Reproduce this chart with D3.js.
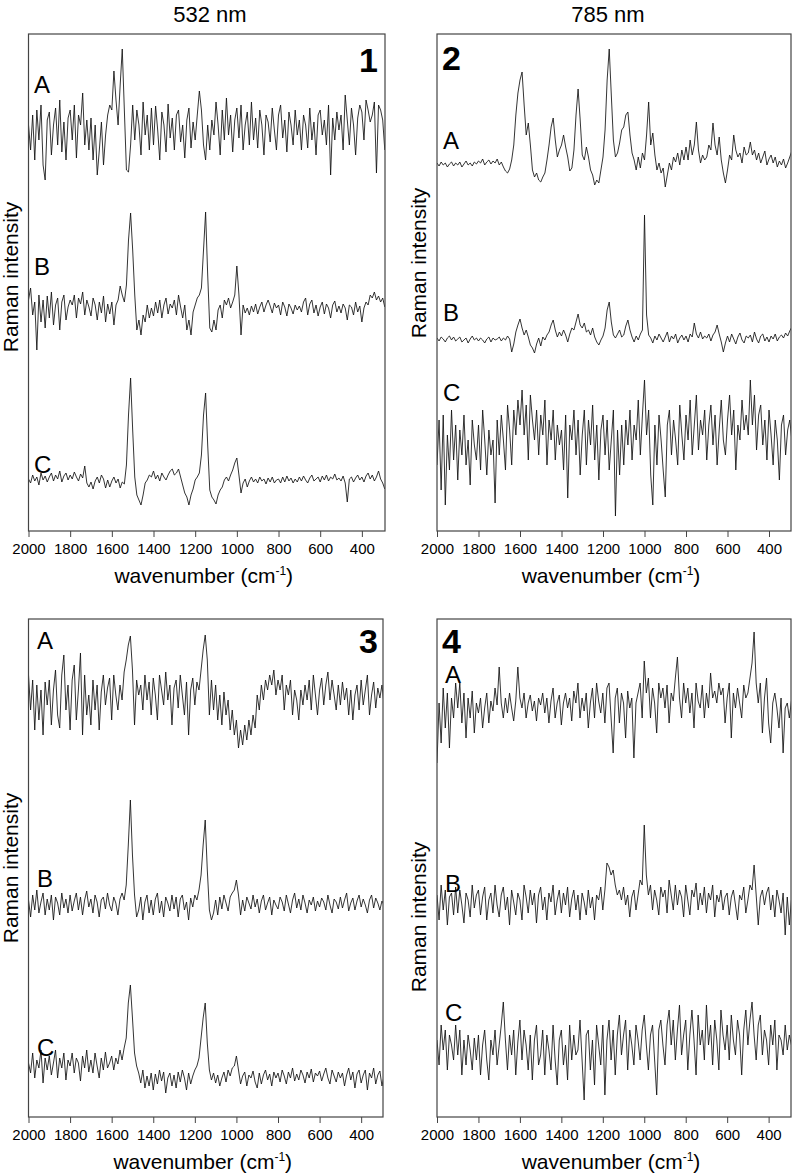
<!DOCTYPE html>
<html>
<head>
<meta charset="utf-8">
<script src="https://cdn.jsdelivr.net/npm/d3@7"></script>
<style>
body { margin: 0; background: #fff; }
text { font-family: Arial, "Liberation Sans", sans-serif; fill: #000; }
</style>
</head>
<body>
<div id="chart"></div>
<script>
// sampling grid (cm-1) and tick labels
var wavenumbers = d3.range(2000, 285, -10);   // 2000 ... 290, 172 points
var xTicks = [2000, 1800, 1600, 1400, 1200, 1000, 800, 600, 400];
var laserTitles = ["532 nm", "785 nm"];
var traceNames = ["A", "B", "C"];

// intensities, arbitrary units above each trace's own baseline
// every row = 100 cm-1 (10 points), last row = 300, 290
var p1A = [
  5, -20, 15, -30, 20, -10, 25, -35, -50, 10,
  18, -25, 5, 22, -15, 30, -22, 8, -30, 12,
  20, -10, 25, -28, 15, 5, 37, -15, 10, -20,
  12, -30, 5, -45, -20, 8, -35, -5, 15, 25,
  20, 59, 30, 5, 45, 81, 20, -40, -42, -15,
  25, -10, 20, 5, -25, 28, -5, 15, -20, 22,
  -15, 24, 0, -30, 18, 5, -22, 26, -8, 12,
  -20, 15, 20, -12, 5, -28, 10, 22, -18, 8,
  -10, 15, 39, 20, -15, -30, 5, -20, 10, -5,
  28, 5, -25, 20, -10, 32, -5, 15, -22, 10,
  22, -8, 25, -20, 5, 18, -15, 28, -10, 12,
  -18, 20, 5, -25, 15, 8, -12, 22, 0, -20,
  15, 25, -8, 10, -22, 18, 5, -15, 20, -5,
  10, -20, 15, 5, -18, 22, -10, 8, -25, 15,
  20, -5, 10, -15, 25, -45, 12, -10, 18, 0,
  15, -20, 35, 10, -15, 22, 5, -25, 12, 25,
  18, -10, 30, 20, 8, 15, 28, -43, 25, 20,
  10, -20
];
var p1B = [
  10, 22, -5, 8, -40, 15, -12, 10, -18, 14,
  -8, 18, -15, 5, 12, -20, 8, 15, -10, 3,
  10, 5, 15, -8, 12, 6, 18, -5, 10, 3,
  -6, 12, 5, -10, 8, -3, 14, -12, 6, -4,
  8, -15, 5, 10, 24, 15, 8, 25, 70, 97,
  60, 15, -20, -10, -25, -5, -12, 5, -8, 2,
  -6, 8, -3, 10, -8, 5, 12, -4, 6, 2,
  10, -5, 15, 3, -8, 5, -20, -10, -25, -2,
  5, 12, 15, 22, 60, 98, 35, -18, -22, -10,
  -20, 0, 5, -8, 10, 5, 12, 2, 8, 15,
  44, 15, -25, 5, -3, 2, -5, 4, -2, 6,
  -4, 3, 8, -2, 5, 10, 4, -3, 7, 2,
  5, -5, 8, 3, -6, 6, 2, -4, 5, 0,
  4, -2, 8, 12, -5, 6, 10, -3, 5, -6,
  3, 8, -4, 6, 2, -8, 5, 9, -2, 4,
  -3, 6, 2, -10, 5, 3, -5, 8, -2, 4,
  -12, 2, 8, 5, 15, 12, 18, 10, 14, 8,
  12, 3
];
var p1C = [
  6, 2, 10, 4, 8, 0, 12, 5, 9, 3,
  8, 12, 4, 10, 6, 14, 3, 9, 12, 5,
  10, 6, 13, 8, 4, 11, 7, 19, 2, -2,
  3, -4, 4, 8, 2, 10, 6, -3, 5, -2,
  4, 8, 2, 6, -3, 3, 1, 20, 70, 107,
  55, 8, -10, -15, -20, -10, 2, 5, 10, 8,
  14, 6, 10, 4, 12, 8, 5, 10, 14, 16,
  10, 12, 16, 8, 0, -8, -12, -20, -10, -4,
  5, 8, 12, 30, 70, 92, 40, -5, -12, -15,
  -19, -10, -5, -2, 5, 8, 4, 10, 15, 22,
  27, 10, -8, 2, 6, -2, 4, 8, 3, 6,
  2, 8, 4, 6, 1, 7, 3, 8, 2, 5,
  6, 2, 8, 3, 9, 4, 7, 2, 6, 3,
  8, 4, 9, 5, 2, 7, 10, 4, 6, 8,
  3, 9, 5, 10, 4, 8, 6, 11, 5, 7,
  4, 9, 2, -17, 6, 8, 3, 7, 10, 5,
  8, 3, 9, 12, 6, 10, 4, 8, 14, 6,
  2, -4
];
var p2A = [
  2, -1, 3, 0, 2, -2, 1, 3, -1, 2,
  0, 3, -2, 1, 4, 0, 2, -1, 3, 1,
  4, 2, 6, 0, 3, 5, 1, 4, 2, 6,
  0, 3, -2, -6, -8, -4, 5, 20, 50, 72,
  85, 93, 60, 30, 42, 20, -5, -12, -8, -15,
  -17, -12, -8, 5, 20, 38, 47, 25, 8, 15,
  20, 30, 18, 8, -6, -3, 15, 50, 76, 45,
  10, 5, 18, 8, -5, -10, -20, -15, -18, -5,
  8, 35, 85, 116, 70, 25, 8, 12, 22, 35,
  38, 50, 53, 30, 12, 5, -5, 8, -3, 12,
  5, 30, 63, 20, 32, 10, -5, 2, -8, -3,
  -22, -10, 2, -5, 8, 3, 12, 0, 15, 5,
  18, 5, 25, 10, 20, 43, 15, 2, 10, 5,
  8, 20, 15, 42, 20, 10, 28, 5, -8, -18,
  -5, 10, 5, 30, 15, 8, 12, 2, 18, 10,
  12, 23, 10, 15, 5, 12, 2, 8, 14, 0,
  6, 10, 2, 8, -2, 4, 0, 6, -3, 2,
  8, 14
];
var p2B = [
  2, -1, 3, 1, -2, 2, 4, 0, 3, -1,
  1, 3, -2, 0, 2, -3, 1, 4, 0, 2,
  -1, 2, 0, -3, 1, 3, -2, 2, 0, 1,
  3, -1, 2, 0, 4, 1, -12, -4, 8, 15,
  21, 12, 5, 10, 3, -5, -8, -13, -4, 2,
  -6, 3, 0, 5, 8, 15, 20, 10, 3, 8,
  4, 10, 5, -2, 6, 12, 10, 18, 26, 15,
  12, 17, 8, 10, 5, 12, 3, -2, -5, 0,
  4, 12, 30, 38, 18, 5, 2, 6, 10, 3,
  5, 14, 20, 10, 3, -2, 4, 0, 6, 10,
  125, 25, 5, 2, -3, 4, 0, 6, 2, -2,
  3, 8, -2, 4, 1, 6, -3, 2, 5, 0,
  4, -2, 6, 3, 17, 6, 2, 8, 1, 4,
  2, 6, -1, 5, 8, 15, 6, -2, -12, -3,
  4, -2, 6, 1, -4, 3, 7, 0, -3, 4,
  2, 5, -2, 8, 1, -3, 4, 6, -1, 3,
  -2, 4, 1, 6, -1, 3, 5, 2, 7, 4,
  9, 13
];
var p2C = [
  -20, 25, -45, 30, -60, 10, -25, 35, -15, 20,
  -35, 15, -10, 30, -20, 5, -40, 25, 0, -15,
  20, -25, 35, 5, -30, 15, -10, 5, -58, 25,
  -10, 30, 5, -25, 40, 15, -20, 35, 10, 45,
  20, 55, 10, 40, -15, 50, 25, 5, 35, -10,
  30, 10, 45, -20, 25, 5, 35, -15, 20, 0,
  15, -25, 30, -53, 20, 5, 35, -10, 25, -30,
  10, 35, -20, 25, 0, 40, -15, 20, -35, 15,
  30, -10, 25, -25, 5, 35, -71, 15, -30, 20,
  -20, 25, 0, 35, -15, 20, 5, 45, -10, 30,
  65, 10, 35, -30, -60, 20, -20, 30, 5, -25,
  -52, 20, 35, -10, 25, 5, -20, 40, 10, -15,
  30, 5, 45, -10, 20, 50, -5, 25, 10, 35,
  -15, 20, 40, 0, 30, -20, 15, 45, 5, -10,
  25, 50, 10, 35, -25, 20, 5, 45, 15, 30,
  10, 65, 20, 50, -5, 30, 40, 0, 25, -15,
  35, 10, -20, 25, 5, -35, 20, 30, -10, 15,
  25, 5
];
var p3A = [
  25, -10, 20, -30, 15, -20, 10, -35, 18, -5,
  20, -25, 10, 30, -15, -28, 25, 45, -10, 15,
  -30, 20, 35, -20, 10, 47, -35, 25, -15, 5,
  -25, 20, -10, 15, -30, 8, 25, -5, 12, 22,
  -20, 25, 5, -10, 15, 0, 28, 40, 55, 64,
  30, -25, 20, 5, 15, -10, 25, 0, 18, -15,
  22, 5, -20, 25, 10, -5, 28, 0, 15, -25,
  12, 20, -8, 25, 5, -15, 18, -35, 10, 22,
  -5, 18, 10, 30, 50, 65, 40, -15, 20, -10,
  15, -20, 5, -25, 8, -15, 0, -30, -10, -35,
  -20, -48, -30, -45, -25, -40, -20, -35, -15, -28,
  5, -10, 15, 0, 20, 10, 25, 15, 30, 5,
  20, 10, 25, -10, 15, 5, 20, -15, 10, 0,
  -20, 10, -5, 15, 0, 20, -10, 25, 5, -15,
  10, 22, -5, 15, 28, 0, 20, 5, -10, 15,
  -5, 18, 0, 12, -15, 10, -20, 5, 15, -10,
  20, -5, 10, 25, -15, 5, 18, -8, 12, 2,
  15, -5
];
var p3B = [
  5, -12, 10, -5, 15, -8, 3, 12, -10, 6,
  -5, 10, -15, 8, 2, -10, 12, -3, 6, -8,
  10, -6, 4, 12, -5, 8, -10, 5, 14, -2,
  6, -8, 10, 3, -12, 5, 8, -4, 12, 0,
  -6, 8, 2, -10, 6, 12, 5, 20, 60, 105,
  50, 10, -12, -5, 8, -15, 3, 10, -8, 5,
  -10, 6, 12, -8, 4, -12, 8, 2, -6, 10,
  -4, 8, -12, 6, 10, -5, 3, -15, 7, -2,
  10, 5, 15, 30, 60, 85, 35, -5, -15, -8,
  5, -10, 8, -4, 10, 2, -6, 8, 12, 15,
  25, 10, -10, 5, -6, 8, 2, -4, 10, -2,
  6, -8, 4, 10, -5, 2, 8, -10, 5, 0,
  -4, 8, 3, -6, 10, 1, -8, 5, 12, -3,
  6, -5, 10, 2, -8, 5, 0, 8, -6, 4,
  -2, 7, 3, -5, 10, 0, -8, 6, 3, -4,
  8, -3, 5, 12, -6, 2, 7, -5, 4, 10,
  -2, 6, 0, -8, 5, 10, -3, 7, 2, -5,
  4, 0
];
var p3C = [
  15, 5, 25, 0, 18, 10, 28, -5, 20, 8,
  22, 3, 15, 28, 0, 20, 10, 25, -2, 18,
  12, 25, 5, 20, 15, -3, 22, 10, 28, 6,
  18, 5, 25, 12, 0, 20, 8, 26, 10, 15,
  22, 8, 20, 14, 28, 18, 30, 40, 75, 93,
  60, 25, 12, 5, -5, 8, -10, 2, -8, 5,
  -12, 4, -6, 8, -3, 6, -15, 0, 5, -8,
  3, -10, 6, -4, 8, 0, -12, 5, -6, 2,
  8, 12, 20, 40, 60, 75, 35, 8, -2, 5,
  -5, 3, -8, 0, 6, -4, 8, 2, 10, 12,
  22, 8, -6, 2, 6, -8, 3, 0, 7, -4,
  -10, 5, -6, 3, 8, -2, 4, -8, 6, 0,
  5, -4, 8, 2, -6, 6, 0, 10, -3, 4,
  -2, 8, 3, -5, 6, 0, 9, -4, 5, 2,
  7, -3, 4, 10, 0, -6, 8, 2, -4, 6,
  0, 5, -8, 3, 10, -2, 6, -10, 4, 8,
  -5, 3, 8, -12, 5, 0, 10, -6, 3, 7,
  -8, 2
];
var p4A = [
  -50, 10, -30, 25, -15, 20, -35, 15, -5, 30,
  5, 30, -10, 20, -25, 15, -5, 22, -20, 10,
  0, 15, -15, 5, 20, -10, 12, 2, 25, 8,
  46, 10, -5, 15, 0, 20, 5, -8, 12, 46,
  15, 5, 20, -5, 10, 18, 2, 12, -8, 15,
  8, 20, 0, 15, -10, 12, 25, -5, 10, 18,
  -12, 10, 20, 5, 15, -8, 22, 10, 30, -5,
  15, 2, 20, -15, 10, 25, -5, 30, 12, 0,
  20, -10, 25, 30, -5, -40, 15, 25, -10, 20,
  10, -25, 22, 5, 15, -45, 10, 20, 30, -5,
  52, 20, 35, -5, 25, 10, -20, 30, 15, 25,
  5, 28, -10, 20, 12, 35, 56, 15, -5, 30,
  10, 25, 0, 20, -15, 30, 12, 5, 28, -5,
  20, 5, 40, 15, 22, 10, 30, 18, 25, -10,
  15, 30, -25, 20, 5, 25, 10, -5, 28, 15,
  20, 35, 50, 81, 30, 10, 30, -20, 15, 35,
  -10, -30, 10, 20, 5, -15, 15, -40, 5, 10,
  -5, 12
];
var p4B = [
  10, -15, 20, -5, 15, -20, 8, 12, -10, 18,
  -8, 15, 0, -18, 12, 5, -12, 20, -3, 10,
  15, -10, 8, 18, -15, 5, 12, -8, 20, 0,
  -12, 10, 18, -5, 8, -20, 15, 3, -10, 12,
  5, -15, 20, 8, -8, 15, 0, 12, -18, 10,
  18, -5, 8, -15, 12, 3, 20, -10, 5, 15,
  -8, 12, 0, 18, -12, 6, 15, -5, 10, -15,
  12, 3, -10, 15, -3, 8, -15, 10, 5, 18,
  -5, 15, 42, 38, 30, 35, 20, 10, 15, 5,
  18, 0, 10, -12, 8, 15, -5, 10, 25, 20,
  80, 30, 10, 20, -5, 15, 5, -10, 18, 8,
  15, -8, 25, 10, -5, 20, 0, 15, 8, -12,
  20, 5, -10, 15, 8, 22, -5, 12, 0, 18,
  -8, 12, 5, 20, -12, 10, 3, 15, -5, 8,
  12, -10, 8, 15, 0, -15, 10, 5, 18, -8,
  5, 20, 15, 40, 10, -20, 8, 15, 0, 12,
  18, -5, 10, -12, 15, 5, -8, 12, -30, 8,
  -20, 5
];
var p4C = [
  10, -15, 25, 0, 20, -20, 15, 5, -10, 25,
  -5, 20, -25, 10, -15, 15, 0, -20, 12, -10,
  15, -25, 5, 20, -10, -30, 10, -5, 20, -15,
  5, 25, 48, 10, -20, 15, -5, 20, -25, 8,
  30, -10, 20, 5, -20, 15, -30, 10, 25, -15,
  -5, 20, -25, 15, 0, -20, 25, -10, -35, 10,
  20, -15, 5, -30, 25, -10, 15, -5, 0, 30,
  -10, -50, 15, 20, -20, 10, -35, 25, 5, -15,
  25, -45, 10, 30, -10, 20, -25, 15, 35, -5,
  15, 30, -20, 20, 5, -15, 25, 10, -10, 20,
  35, 5, -20, 15, 25, -10, -45, 20, 30, 5,
  -15, 25, 40, 5, 30, -10, 20, 45, -5, 15,
  30, -20, 15, 40, 10, -25, 35, 5, 20, -10,
  45, 5, 25, -15, 30, 10, -20, 40, 15, 0,
  25, -10, 35, 10, -5, 30, 15, -25, 20, 40,
  5, 30, 48, 15, -10, 25, 35, -5, 20, 10,
  -15, 25, 5, 30, -20, 15, 10, -5, 25, 0,
  15, 5
];

// layout of the four boxes (pixels)
var W = 792, H = 1175;
var panels = [
  {num: "1", left: 28.5, right: 385, top: 34, bottom: 531, xEnd: 289, series: [p1A, p1B, p1C], base: [401, 221, 46],
   labels: [[34, 93], [34, 275], [34, 473]], numPos: [378, 72, "end"], ylabY: 277},
  {num: "2", left: 437, right: 791, top: 34, bottom: 531, xEnd: 294, series: [p2A, p2B, p2C], base: [366, 191, 86],
   labels: [[443, 149], [443, 321], [443, 401]], numPos: [442, 70, "start"], ylabY: 263},
  {num: "3", left: 28.5, right: 383, top: 619, bottom: 1117, xEnd: 295, series: [p3A, p3B, p3C], base: [417, 212, 39],
   labels: [[37, 649], [37, 887], [37, 1056]], numPos: [378, 653, "end"], ylabY: 868},
  {num: "4", left: 437, right: 791, top: 619, bottom: 1117, xEnd: 292, series: [p4A, p4B, p4C], base: [404, 212, 67],
   labels: [[445, 683], [445, 892], [445, 1021]], numPos: [442, 653, "start"], ylabY: 917}
];

var svg = d3.select("#chart")
  .append("svg")
    .attr("width", W)
    .attr("height", H);

// column titles
svg.append("text").attr("x", 210).attr("y", 22).attr("text-anchor", "middle")
  .style("font-size", "22px").text(laserTitles[0]);
svg.append("text").attr("x", 608).attr("y", 22).attr("text-anchor", "middle")
  .style("font-size", "22px").text(laserTitles[1]);

panels.forEach(function(p, k) {
  var w = p.right - p.left, h = p.bottom - p.top;

  var x = d3.scaleLinear().domain([2000, p.xEnd]).range([0, w]);
  var y = d3.scaleLinear().domain([0, h]).range([h, 0]);

  var g = svg.append("g").attr("transform", "translate(" + p.left + "," + p.top + ")");

  g.append("clipPath").attr("id", "clip" + k)
    .append("rect").attr("width", w).attr("height", h);

  // spectra
  var plot = g.append("g").attr("clip-path", "url(#clip" + k + ")");
  p.series.forEach(function(vals, j) {
    var line = d3.line()
      .x(function(d, i) { return x(wavenumbers[i]); })
      .y(function(d) { return y(p.base[j] + d); });
    plot.append("path")
      .datum(vals)
      .attr("fill", "none")
      .attr("stroke", "#111")
      .attr("stroke-width", 0.85)
      .attr("stroke-linejoin", "round")
      .attr("d", line);
  });

  // frame
  g.append("rect").attr("width", w).attr("height", h)
    .attr("fill", "none").attr("stroke", "#444").attr("stroke-width", 1.2);

  // x axis
  var ax = g.append("g")
    .attr("transform", "translate(0," + h + ")")
    .call(d3.axisBottom(x).tickValues(xTicks).tickFormat(d3.format("d"))
      .tickSize(6).tickSizeOuter(0).tickPadding(6));
  ax.select(".domain").remove();
  ax.selectAll("line").attr("stroke", "#444");
  ax.selectAll("text").style("font-size", "15px").attr("fill", "#000");

  // axis titles
  var xt = svg.append("text")
    .attr("x", p.left + w / 2 - 3)
    .attr("y", p.bottom + 52)
    .attr("text-anchor", "middle")
    .style("font-size", "21px");
  xt.append("tspan").text("wavenumber (cm");
  xt.append("tspan").attr("dy", -8).style("font-size", "12px").text("-1");
  xt.append("tspan").attr("dy", 8).text(")");

  svg.append("text")
    .attr("transform", "translate(" + (p.left - 11) + "," + p.ylabY + ")rotate(-90)")
    .attr("text-anchor", "middle")
    .style("font-size", "21px")
    .text("Raman intensity");

  // trace letters
  p.labels.forEach(function(pos, j) {
    svg.append("text").attr("x", pos[0]).attr("y", pos[1])
      .style("font-size", "24px").text(traceNames[j]);
  });

  // panel number
  svg.append("text").attr("x", p.numPos[0]).attr("y", p.numPos[1])
    .attr("text-anchor", p.numPos[2])
    .style("font-size", "34px").style("font-weight", "bold")
    .text(p.num);
});
</script>
</body>
</html>
